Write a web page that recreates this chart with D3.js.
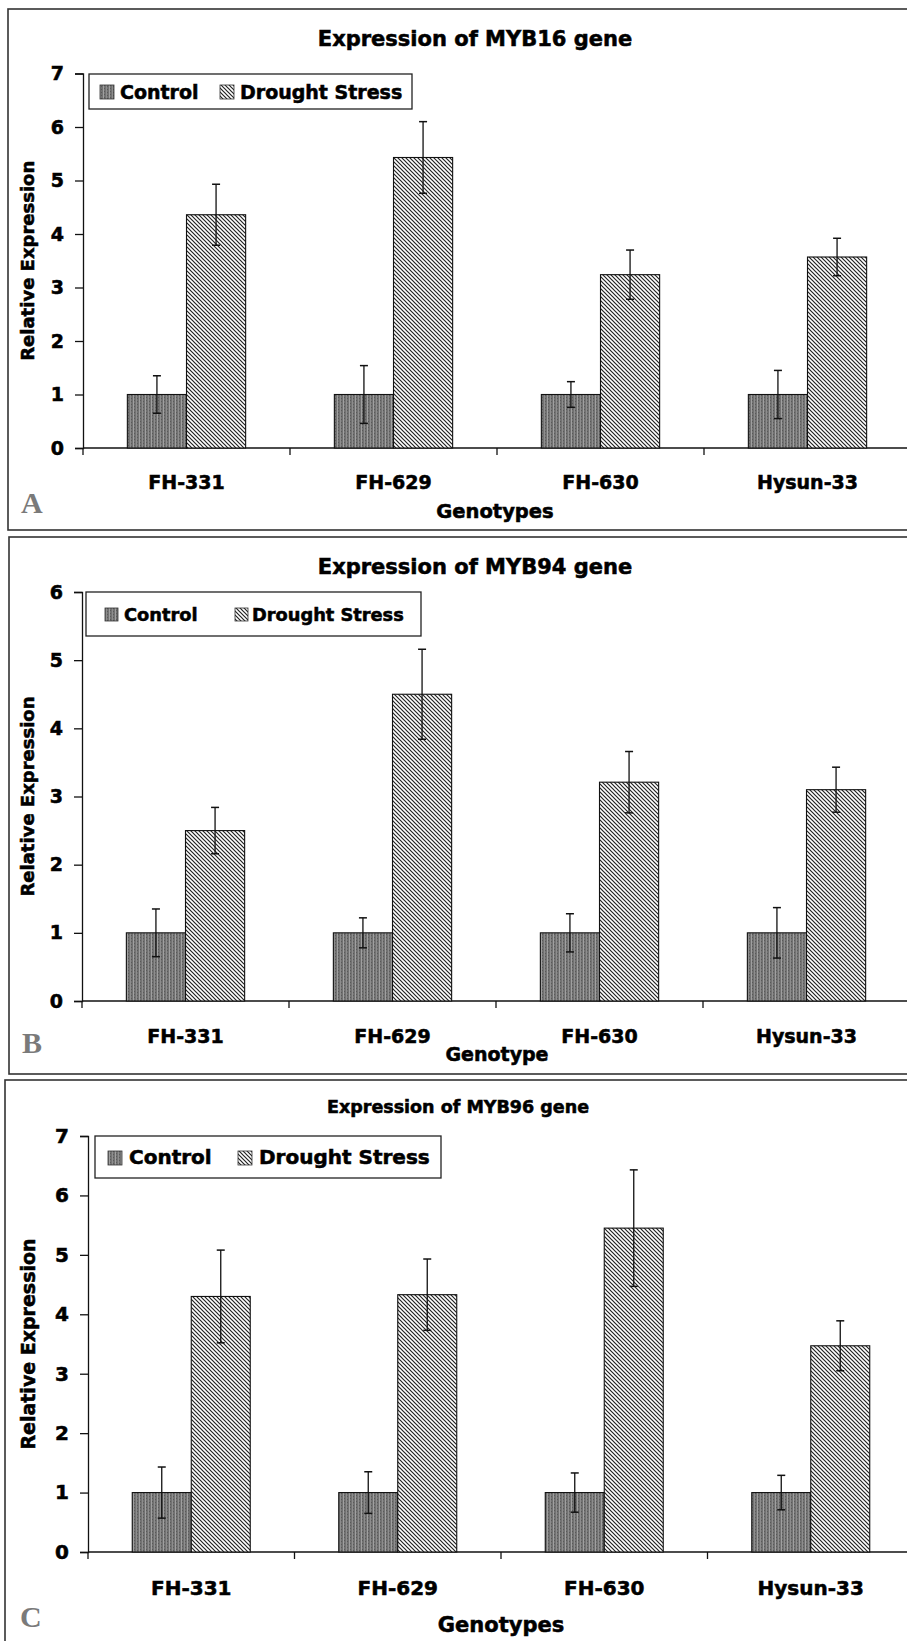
<!DOCTYPE html>
<html><head><meta charset="utf-8">
<script src="https://cdn.jsdelivr.net/npm/d3@7"></script>
<style>body{margin:0;background:#fff}svg{display:block}
.hv{stroke:#000;stroke-width:0.55px;paint-order:stroke}</style>
</head><body>
<svg id="c" width="907" height="1641"></svg>
<script>
const genotypes = ["FH-331","FH-629","FH-630","Hysun-33"];
const seriesNames = ["Control","Drought Stress"];
// Panel A: MYB16
const myb16Control = [1,1,1,1];
const myb16ControlErr = [0.35,0.54,0.24,0.45];
const myb16Drought = [4.36,5.43,3.24,3.57];
const myb16DroughtErr = [0.57,0.67,0.46,0.35];
const myb16Ticks = [0,1,2,3,4,5,6,7];
// Panel B: MYB94
const myb94Control = [1,1,1,1];
const myb94ControlErr = [0.35,0.22,0.28,0.37];
const myb94Drought = [2.50,4.50,3.21,3.10];
const myb94DroughtErr = [0.34,0.66,0.45,0.33];
const myb94Ticks = [0,1,2,3,4,5,6];
// Panel C: MYB96
const myb96Control = [1,1,1,1];
const myb96ControlErr = [0.43,0.35,0.33,0.29];
const myb96Drought = [4.30,4.33,5.45,3.47];
const myb96DroughtErr = [0.78,0.60,0.98,0.42];
const myb96Ticks = [0,1,2,3,4,5,6,7];

const FONT = "'DejaVu Sans', Arial, sans-serif";
const svg = d3.select("#c");
const defs = svg.append("defs");
// control pattern: dark grey with vertical texture
const pc = defs.append("pattern").attr("id","pCtrl").attr("patternUnits","userSpaceOnUse").attr("width",6).attr("height",3);
pc.append("rect").attr("width",6).attr("height",3).attr("fill","#727272");
pc.append("rect").attr("x",1).attr("width",1).attr("height",3).attr("fill","#a0a0a0");
pc.append("rect").attr("x",4).attr("width",1).attr("height",3).attr("fill","#8e8e8e");
pc.append("rect").attr("x",2).attr("y",1).attr("width",1).attr("height",1).attr("fill","#595959");
pc.append("rect").attr("x",5).attr("y",2).attr("width",1).attr("height",1).attr("fill","#595959");
// drought pattern: diagonal hatch
const pd = defs.append("pattern").attr("id","pDrt").attr("patternUnits","userSpaceOnUse").attr("width",4).attr("height",4);
pd.append("rect").attr("width",4).attr("height",4).attr("fill","#fff");
pd.append("path").attr("d","M-1,-1L5,5M-1,3L1,5M3,-1L5,1").attr("stroke","#222").attr("stroke-width",1.2);

const fills = {"Control":"url(#pCtrl)","Drought Stress":"url(#pDrt)"};

function drawPanel(p){
  const g = svg.append("g");
  g.append("rect").attr("x",p.box[0]).attr("y",p.box[1]).attr("width",p.box[2]).attr("height",p.box[3])
    .attr("fill","none").attr("stroke","#333").attr("stroke-width",1.6);
  const y = d3.scaleLinear().domain([0,d3.max(p.ticks)]).range([p.y0,p.yTop]);
  const x0 = d3.scaleBand().domain(genotypes).range([p.x0, p.x0 + p.band*genotypes.length]).padding(0);
  const x1 = d3.scaleBand().domain(seriesNames).range([0,x0.bandwidth()]).paddingInner(0).paddingOuter(0.75);
  g.append("text").attr("class","hv").attr("x",p.titleX).attr("y",p.titleY).attr("text-anchor","middle")
    .attr("font-family",FONT).attr("font-weight","bold").attr("font-size",p.titleSize).text(p.title);
  const ya = d3.axisLeft(y).tickValues(p.ticks).tickSize(8).tickPadding(p.tickPad).tickFormat(d3.format("d"));
  const yg = g.append("g").attr("transform",`translate(${p.x0},0)`).call(ya);
  yg.select(".domain").attr("stroke","#111").attr("stroke-width",1.3);
  yg.selectAll(".tick line").attr("stroke","#111").attr("stroke-width",1.3);
  yg.selectAll("text").attr("class","hv").attr("font-family",FONT).attr("font-weight","bold").attr("font-size",p.tickSize).attr("fill","#000");
  g.append("line").attr("x1",p.x0).attr("x2",p.x0+p.band*genotypes.length+2).attr("y1",p.y0).attr("y2",p.y0)
    .attr("stroke","#111").attr("stroke-width",1.3);
  const bounds = genotypes.map(d=>x0(d));
  g.selectAll(".xt").data(bounds).enter().append("line").attr("x1",d=>d).attr("x2",d=>d)
    .attr("y1",p.y0).attr("y2",p.y0+7).attr("stroke","#111").attr("stroke-width",1.3);
  g.selectAll(".xl").data(genotypes).enter().append("text").attr("class","hv")
    .attr("x",d=>x0(d)+x0.bandwidth()/2).attr("y",p.catY).attr("text-anchor","middle")
    .attr("font-family",FONT).attr("font-weight","bold").attr("font-size",p.catSize).text(d=>d);
  const rows = [];
  genotypes.forEach((gn,i)=>{
    rows.push({g:gn,s:"Control",v:p.ctrl[i],e:p.ctrlErr[i]});
    rows.push({g:gn,s:"Drought Stress",v:p.drt[i],e:p.drtErr[i]});
  });
  g.selectAll(".bar").data(rows).enter().append("rect")
    .attr("x",d=>x0(d.g)+x1(d.s)).attr("y",d=>y(d.v))
    .attr("width",x1.bandwidth()).attr("height",d=>y(0)-y(d.v))
    .attr("fill",d=>fills[d.s]).attr("stroke","#111").attr("stroke-width",1.1);
  const eg = g.selectAll(".err").data(rows).enter().append("g")
    .attr("transform",d=>`translate(${x0(d.g)+x1(d.s)+x1.bandwidth()/2},0)`);
  eg.append("line").attr("x1",0).attr("x2",0).attr("y1",d=>y(d.v+d.e)).attr("y2",d=>y(d.v-d.e)).attr("stroke","#111").attr("stroke-width",1.3);
  eg.append("line").attr("x1",-4).attr("x2",4).attr("y1",d=>y(d.v+d.e)).attr("y2",d=>y(d.v+d.e)).attr("stroke","#111").attr("stroke-width",1.5);
  eg.append("line").attr("x1",-4).attr("x2",4).attr("y1",d=>y(d.v-d.e)).attr("y2",d=>y(d.v-d.e)).attr("stroke","#111").attr("stroke-width",1.5);
  g.append("text").attr("class","hv").attr("transform",`translate(${p.ylabX},${(y(0)+y(d3.max(p.ticks)))/2}) rotate(-90)`)
    .attr("text-anchor","middle").attr("dominant-baseline","central")
    .attr("font-family",FONT).attr("font-weight","bold").attr("font-size",p.ylabSize).text("Relative Expression");
  g.append("text").attr("class","hv").attr("x",p.xlabX).attr("y",p.xlabY).attr("text-anchor","middle")
    .attr("font-family",FONT).attr("font-weight","bold").attr("font-size",p.xlabSize).text(p.xlab);
  g.append("text").attr("x",p.letterX).attr("y",p.letterY).attr("font-family","'Liberation Serif','Times New Roman',serif")
    .attr("font-weight","bold").attr("font-size",30).attr("fill","#7a7a7a").text(p.letter);
  const L = p.legend;
  g.append("rect").attr("x",L.x).attr("y",L.y).attr("width",L.w).attr("height",L.h)
    .attr("fill","#fff").attr("stroke","#222").attr("stroke-width",1.3);
  seriesNames.forEach((s,i)=>{
    g.append("rect").attr("x",L.sw[i]).attr("y",L.swY).attr("width",L.swS).attr("height",L.swS)
      .attr("fill",fills[s]).attr("stroke","#333").attr("stroke-width",0.8);
    g.append("text").attr("class","hv").attr("x",L.tx[i]).attr("y",L.ty).attr("font-family",FONT).attr("font-weight","bold")
      .attr("font-size",L.size).text(s);
  });
}

drawPanel({box:[8,9,920,521], title:"Expression of MYB16 gene", titleX:475, titleY:46, titleSize:21,
  x0:83, band:207, y0:448, yTop:73.5, ticks:myb16Ticks, tickPad:11, tickSize:19,
  ctrl:myb16Control, ctrlErr:myb16ControlErr, drt:myb16Drought, drtErr:myb16DroughtErr,
  catY:489, catSize:19, ylabX:27, ylabSize:18, xlab:"Genotypes", xlabX:495, xlabY:518, xlabSize:19.5,
  letter:"A", letterX:21, letterY:513,
  legend:{x:89,y:74,w:323,h:35,sw:[100,220],swY:85,swS:14,tx:[120,240],ty:99,size:19}});

drawPanel({box:[9,537,920,537], title:"Expression of MYB94 gene", titleX:475, titleY:574, titleSize:21,
  x0:82, band:207, y0:1001, yTop:592, ticks:myb94Ticks, tickPad:11, tickSize:19,
  ctrl:myb94Control, ctrlErr:myb94ControlErr, drt:myb94Drought, drtErr:myb94DroughtErr,
  catY:1043, catSize:19, ylabX:27, ylabSize:18, xlab:"Genotype", xlabX:497, xlabY:1061, xlabSize:19,
  letter:"B", letterX:22, letterY:1053,
  legend:{x:86,y:592,w:335,h:44,sw:[105,235],swY:608,swS:13,tx:[124,252],ty:621,size:17.8}});

drawPanel({box:[5,1080,920,600], title:"Expression of MYB96 gene", titleX:458, titleY:1113, titleSize:17.5,
  x0:88, band:206.5, y0:1552, yTop:1136, ticks:myb96Ticks, tickPad:11, tickSize:20,
  ctrl:myb96Control, ctrlErr:myb96ControlErr, drt:myb96Drought, drtErr:myb96DroughtErr,
  catY:1595, catSize:20, ylabX:28, ylabSize:19, xlab:"Genotypes", xlabX:501, xlabY:1632, xlabSize:21,
  letter:"C", letterX:20, letterY:1627,
  legend:{x:95,y:1136,w:346,h:42,sw:[108,238],swY:1151,swS:14,tx:[129,259],ty:1164,size:20}});
</script>
</body></html>
